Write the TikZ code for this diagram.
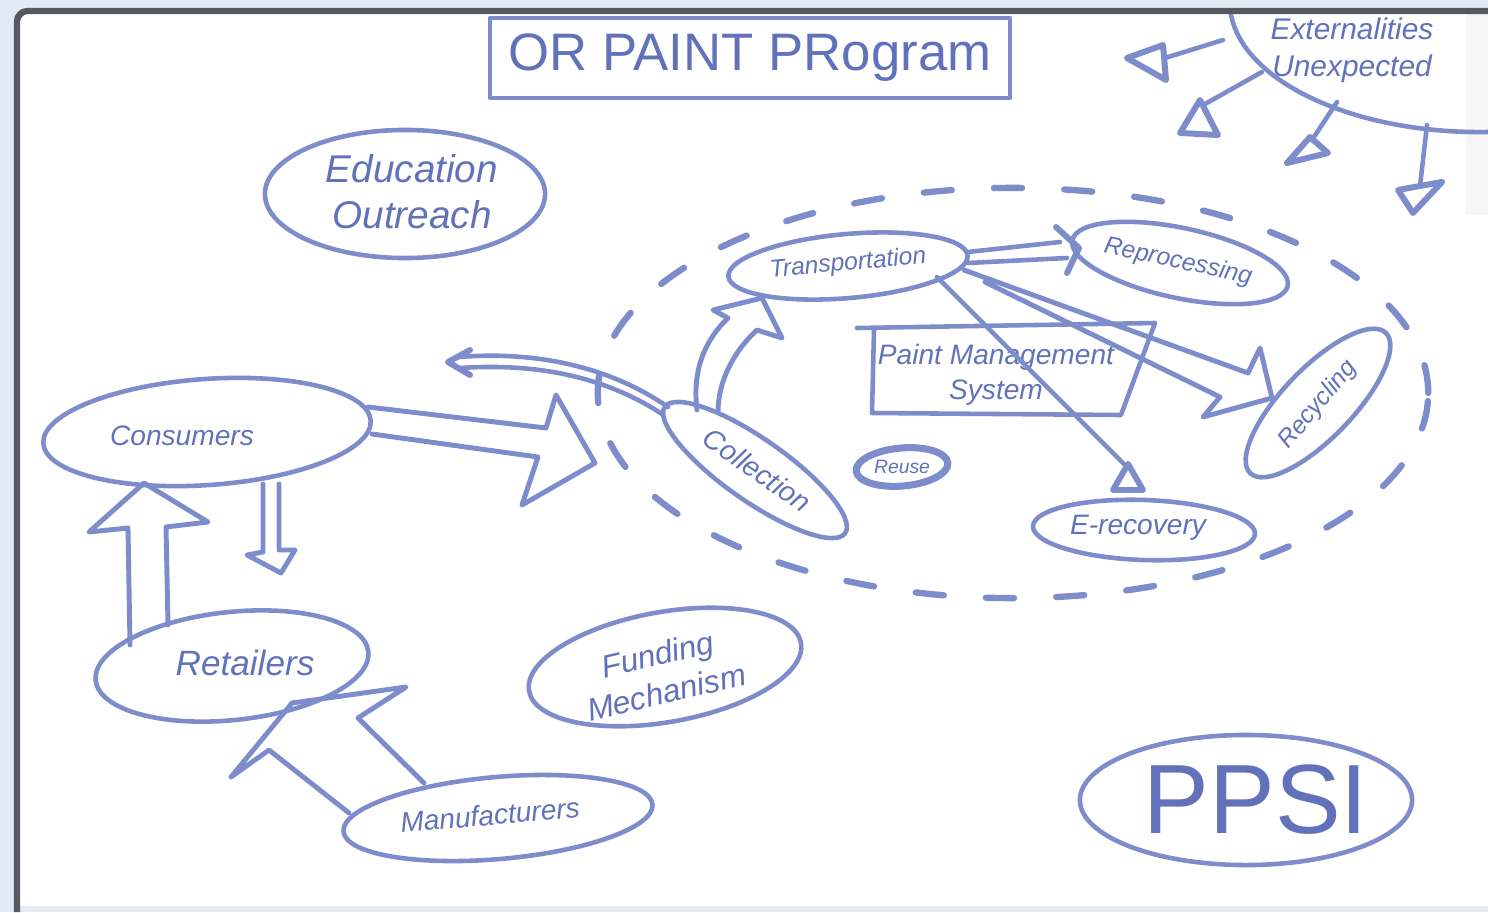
\documentclass[tikz,border=0pt]{standalone}
\usepackage{fontspec}
\setmainfont{Liberation Sans}
\usetikzlibrary{shapes.geometric,arrows.meta}
\definecolor{pen}{RGB}{125,140,202}
\definecolor{ink}{RGB}{98,114,186}
\definecolor{bgblue}{RGB}{226,234,244}
\definecolor{framegray}{RGB}{88,88,96}
\begin{document}
\begin{tikzpicture}[x=0.01cm,y=-0.01cm,
  pen/.style={draw=pen,line width=1.3pt,line join=round,line cap=round},
  ell/.style={ellipse,pen,inner sep=0pt,outer sep=0pt},
  lbl/.style={text=ink,inner sep=0pt,align=center,font=\itshape\fontsize{#1}{#1}\selectfont},
  lbl/.default=9,
  blockarrow/.style={pen,line width=1.4pt},
  dashring/.style={draw=pen,line width=1.8pt,dash pattern=on 8pt off 12pt,line cap=round},
  tiptri/.style={pen,line width=1.7pt},
]
\useasboundingbox (0,0) rectangle (1488,912);
\fill[bgblue] (0,0) rectangle (1488,912);
\fill[white] (17,11) rectangle (1488,906);
\fill[gray!7] (1466,14) rectangle (1488,215);
\draw[framegray,line width=1.8pt,rounded corners=3pt] (17,912) -- (17,11) -- (1488,11);

% dashed system boundary
\draw[dashring] (1013,393) ellipse [x radius=4.15cm, y radius=2.05cm];

% title
\node[pen,rectangle,minimum width=5.2cm,minimum height=0.8cm,inner sep=0pt] (title) at (750,58) {};
\node[lbl=15,font=\fontsize{15}{15}\selectfont] at (title) {OR PAINT PRogram};

% nodes
\node[ell,minimum width=3.28cm,minimum height=1.06cm,rotate=4] (cons) at (207,432) {};
\node[lbl=8] at (182,436) {Consumers};
\node[ell,minimum width=2.74cm,minimum height=1.08cm,rotate=6] (ret) at (232,666) {};
\node[lbl=10] at (245,663) {Retailers};
\node[ell,minimum width=3.1cm,minimum height=0.82cm,rotate=5] (manu) at (498,818) {};
\node[lbl=8,rotate=5] at (490,815) {Manufacturers};
\node[ell,minimum width=2.76cm,minimum height=1.1cm,rotate=10] (fund) at (665,667) {};
\node[lbl=9,rotate=13] at (662,673) {Funding\\[2pt]Mechanism};
\node[ell,minimum width=2.8cm,minimum height=1.28cm] (edu) at (405,194) {};
\node[lbl=11] at (412,192) {Education\\[2pt]Outreach};
\node[ell,minimum width=2.2cm,minimum height=0.62cm,rotate=-35] (coll) at (755,470) {};
\node[lbl=8,rotate=-35] at (757,470) {Collection};
\node[ell,minimum width=2.4cm,minimum height=0.64cm,rotate=5] (trans) at (848,266) {};
\node[lbl=7,rotate=5] at (848,264) {Transportation};
\node[ell,minimum width=2.2cm,minimum height=0.7cm,rotate=-12] (repro) at (1180,263) {};
\node[lbl=7,rotate=-12] at (1178,262) {Reprocessing};
\node[ell,minimum width=1.95cm,minimum height=0.7cm,rotate=46] (recy) at (1318,403) {};
\node[lbl=7,rotate=50] at (1318,405) {Recycling};
\node[ell,line width=2pt,minimum width=0.92cm,minimum height=0.38cm,rotate=5] (reuse) at (902,467) {};
\node[lbl=5.5] at (902,467) {Reuse};
\node[ell,minimum width=2.22cm,minimum height=0.6cm,rotate=-2] (erec) at (1144,530) {};
\node[lbl=8] at (1138,528) {E-recovery};
\node[ell,minimum width=3.32cm,minimum height=1.3cm] (ppsi) at (1246,800) {};
\node[lbl=28,font=\fontsize{28}{28}\selectfont] at (1256,800) {PPSI};

% paint management system box
\draw[pen] (857,328) -- (1155,323) -- (1121,415) -- (872,413) -- (874,330);
\node[lbl=8] (pms) at (996,375) {Paint Management\\[2pt]System};

% externalities
\begin{scope}
\clip (20,14) rectangle (1488,906);
\node[ell,minimum width=5cm,minimum height=2.6cm] (ext) at (1480,2) {};
\end{scope}
\node[lbl=8.5] at (1352,50) {Externalities\\[2pt]Unexpected};
\coordinate (x1) at (1223,40);
\coordinate (x2) at (1262,72);
\coordinate (x3) at (1337,102);
\coordinate (x4) at (1427,125);
\draw[pen] (x1) -- (1165,58);
\draw[tiptri] (1127,58) -- (1163,45) -- (1166,80) -- cycle;
\draw[pen] (x2) -- (1205,104);
\draw[tiptri] (1200,100) -- (1180,133) -- (1218,135) -- cycle;
\draw[pen] (x3) -- (1312,140);
\draw[tiptri] (1310,137) -- (1287,163) -- (1328,153) -- cycle;
\draw[pen] (x4) -- (1420,186);
\draw[tiptri] (1398,190) -- (1442,182) -- (1413,213) -- cycle;

% block arrows
\draw[blockarrow] (368,407) -- (546,428) -- (556,395) -- (595,463) -- (522,505) -- (538,457) -- (372,434);
\draw[blockarrow] (130,645) -- (128,528) -- (89,532) -- (144,483) -- (208,522) -- (166,527) -- (168,625);
\draw[blockarrow] (263,484) -- (263,552) -- (247,555) -- (281,573) -- (295,550) -- (279,550) -- (279,484);
\draw[blockarrow] (349,813) -- (269,750) -- (231,777) -- (292,703) -- (406,687) -- (358,718) -- (424,783);
\draw[blockarrow] (697,410) .. controls (692,370) and (705,340) .. (728,318) -- (713,310) -- (762,298) -- (782,338) -- (757,330) .. controls (735,350) and (718,380) .. (718,412);
\draw[blockarrow] (964,270) -- (1248,373) -- (1260,348) -- (1272,398) -- (1203,417) -- (1220,397) -- (985,282);

% thin arrows
\draw[pen] (668,407) .. controls (600,360) and (520,352) .. (460,357);
\draw[pen] (662,414) .. controls (595,370) and (520,364) .. (460,368);
\draw[tiptri] (470,350) -- (448,362) -- (470,375);
\draw[pen] (968,252) -- (1060,242);
\draw[pen] (968,263) -- (1067,258);
\draw[tiptri] (1056,227) -- (1079,248) -- (1067,273);
\draw[pen] (937,277) -- (1126,466);
\draw[tiptri] (1128,464) -- (1113,490) -- (1143,490) -- cycle;
\end{tikzpicture}
\end{document}
